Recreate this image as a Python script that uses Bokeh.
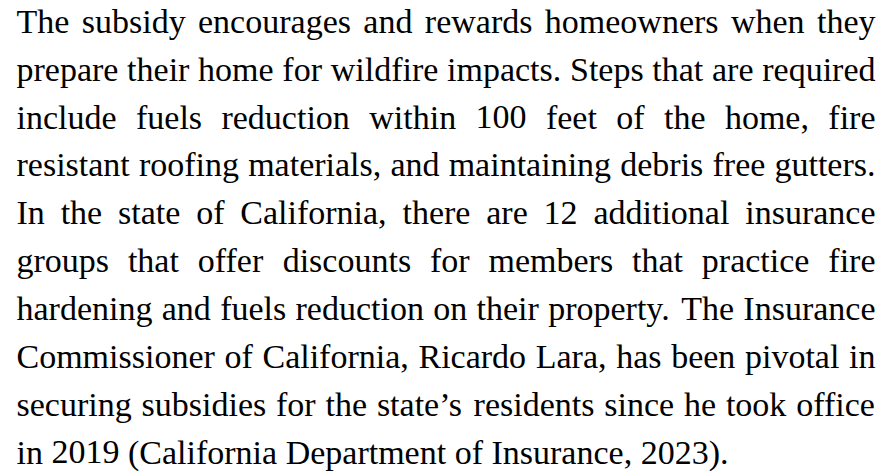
from bokeh.plotting import figure
from bokeh.models import Range1d, ColumnDataSource
from bokeh.embed import file_html
from bokeh.resources import INLINE
from bokeh.core.properties import value

# Paragraph lines (as laid out in the reference)
lines = [
    "The subsidy encourages and rewards homeowners when they",
    "prepare their home for wildfire impacts. Steps that are required",
    "include fuels reduction within 100 feet of the home, fire",
    "resistant roofing materials, and maintaining debris free gutters.",
    "In the state of California, there are 12 additional insurance",
    "groups that offer discounts for members that practice fire",
    "hardening and fuels reduction on their property. The Insurance",
    "Commissioner of California, Ricardo Lara, has been pivotal in",
    "securing subsidies for the state\u2019s residents since he took office",
    "in 2019 (California Department of Insurance, 2023).",
]

FONT = "Liberation Serif"
FS = 34.0
W, H = 891, 472
X0, X1 = 16.0, 875.0
BASELINE_SHIFT = 11.0          # renderer places alphabetic baseline ~11px below y
Y_FIRST, LINE_GAP = 31.7 - BASELINE_SHIFT, 47.9

# Times / Liberation Serif advance widths (units per 1000 em)
AFM = {' ': 250, ',': 250, '.': 250, '(': 333, ')': 333, '\u2019': 333, "'": 333, '-': 333,
       'A': 722, 'B': 667, 'C': 667, 'D': 722, 'E': 611, 'F': 556, 'G': 722, 'H': 722, 'I': 333,
       'J': 389, 'K': 722, 'L': 611, 'M': 889, 'N': 722, 'O': 722, 'P': 556, 'Q': 722, 'R': 667,
       'S': 556, 'T': 611, 'U': 722, 'V': 722, 'W': 944, 'X': 722, 'Y': 722, 'Z': 611,
       'a': 444, 'b': 500, 'c': 444, 'd': 500, 'e': 444, 'f': 333, 'g': 500, 'h': 500, 'i': 278,
       'j': 278, 'k': 500, 'l': 278, 'm': 778, 'n': 500, 'o': 500, 'p': 500, 'q': 500, 'r': 333,
       's': 389, 't': 278, 'u': 500, 'v': 500, 'w': 722, 'x': 500, 'y': 500, 'z': 444}
for d in "0123456789":
    AFM[d] = 500


def wwidth(word):
    return sum(AFM.get(c, 500) for c in word) * FS / 1000.0


xs, ys, words = [], [], []
for k, line in enumerate(lines):
    parts = line.split(" ")
    widths = [wwidth(w) for w in parts]
    y = Y_FIRST + LINE_GAP * k
    if k < len(lines) - 1 and len(parts) > 1:
        gap = (X1 - X0 - sum(widths)) / (len(parts) - 1)
    else:
        gap = AFM[' '] * FS / 1000.0
    x = X0
    for w, ww in zip(parts, widths):
        xs.append(x)
        ys.append(y)
        words.append(w)
        x += ww + gap

src = ColumnDataSource(dict(x=xs, y=ys, word=words))

p = figure(width=W, height=H, x_range=Range1d(0, W), y_range=Range1d(H, 0),
           output_backend="svg", toolbar_location=None, min_border=0,
           outline_line_color=None, background_fill_color="white",
           border_fill_color="white", title=None)
p.axis.visible = False
p.grid.visible = False

p.text(x="x", y="y", text="word", source=src, text_font=value(FONT),
       text_font_size=f"{FS}px", text_baseline="alphabetic", text_align="left",
       text_color="#000000")

open("out.html", "w").write(file_html(p, INLINE))
